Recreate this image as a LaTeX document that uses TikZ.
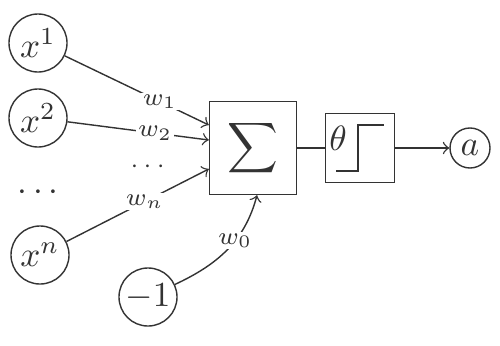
\documentclass[tikz,border=0pt]{standalone}
\usepackage{amsmath,amssymb}
\usetikzlibrary{calc}

\begin{document}
\begin{tikzpicture}[x=0.01cm, y=0.01cm, color=black!80]
\tikzset{unit/.style={draw, circle, minimum size=0.58cm, inner sep=0pt},
         wlab/.style={fill=white, inner sep=0.5pt, font=\scriptsize}}
\useasboundingbox (0,0) rectangle (500,345);
% inputs
\node[unit] (x1) at (38,302) {$x^1$};
\node[unit] (x2) at (38,227) {$x^2$};
\node (dots) at (41,152) {$\cdots$};
\node[unit] (xn) at (40,90) {$x^n$};
\node[unit] (bias) at (148,48) {$-1$};
% sum and threshold
\node[draw, minimum width=0.87cm, minimum height=0.93cm, inner sep=0pt] (sum) at (253,197) {$\displaystyle\sum$};
\node[draw, minimum width=0.69cm, minimum height=0.69cm] (act) at (360,197) {};
\node[unit, minimum size=0.4cm] (a) at (470,197) {$a$};
\node (theta) at (338,207) {$\theta$};
\draw (336,174) -- (358,174) -- (358,220) -- (384,220);
% weights
\draw[->] (x1) -- ($(sum.west)+(0,23)$) node[wlab, pos=0.66] (w1) {$w_1$};
\draw[->] (x2) -- ($(sum.west)+(0,8)$) node[wlab, pos=0.62] (w2) {$w_2$};
\draw[->] (xn) -- ($(sum.west)+(0,-21)$) node[wlab, pos=0.55] (wn) {$w_n$};
\node[font=\scriptsize] (wdots) at (150,178) {$\cdots$};
\draw[->] (bias) to[out=25, in=-105] node[wlab, pos=0.6] (w0) {$w_0$} ($(sum.south)+(4,0)$);
\draw (sum) -- (act);
\draw[->] (act) -- (a);
\end{tikzpicture}
\end{document}
